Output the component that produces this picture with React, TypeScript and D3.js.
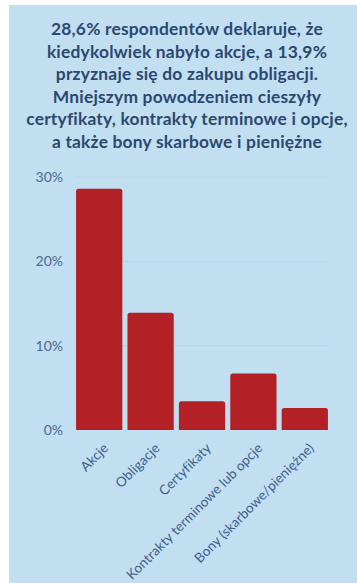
import React from "react";
import * as d3 from "d3";

const titleLines = [
  "28,6% respondentów deklaruje, że",
  "kiedykolwiek nabyło akcje, a 13,9%",
  "przyznaje się do zakupu obligacji.",
  "Mniejszym powodzeniem cieszyły",
  "certyfikaty, kontrakty terminowe i opcje,",
  "a także bony skarbowe i pieniężne",
];
const categories = [
  "Akcje",
  "Obligacje",
  "Certyfikaty",
  "Kontrakty terminowe lub opcje",
  "Bony (skarbowe/pieniężne)",
];
const values = [28.6, 13.9, 3.4, 6.7, 2.6];
const yTicks = [0, 10, 20, 30];

const W = 357;
const H = 583;

export default function App() {
  const x = d3
    .scaleBand<string>()
    .domain(categories)
    .range([73.5, 330.5])
    .paddingInner(0.1)
    .paddingOuter(0.05);
  const y = d3.scaleLinear().domain([0, 30]).range([430, 177]);
  const r = 2.5;
  const barPath = (x0: number, w: number, y0: number, y1: number) => {
    const p = d3.path();
    p.moveTo(x0, y1);
    p.lineTo(x0, y0 + r);
    p.quadraticCurveTo(x0, y0, x0 + r, y0);
    p.lineTo(x0 + w - r, y0);
    p.quadraticCurveTo(x0 + w, y0, x0 + w, y0 + r);
    p.lineTo(x0 + w, y1);
    p.closePath();
    return p.toString();
  };
  return (
    <svg
      width={W}
      height={H}
      style={{ position: "absolute", left: 0, top: 0 }}
    >
      <rect x={0} y={0} width={W} height={H} fill="#ffffff" />
      <rect x={9} y={5} width={W - 9} height={H - 5} fill="#c1dff0" />
      {titleLines.map((t, i) => (
        <text
          key={i}
          x={187}
          y={35 + i * 22.6}
          textAnchor="middle"
          fontFamily="Lato"
          fontWeight={700}
          fontSize={17.4}
          letterSpacing={0.2}
          fill="#2c4870"
        >
          {t}
        </text>
      ))}
      {yTicks.map((t) => (
        <g key={t}>
          {t > 0 && (
            <line
              x1={76}
              x2={328}
              y1={y(t)}
              y2={y(t)}
              stroke="#b3d3e6"
              strokeWidth={1}
            />
          )}
          <text
            x={63}
            y={y(t)}
            dy="0.35em"
            textAnchor="end"
            fontFamily="Lato"
            fontSize={14}
            fill="#4c6994"
          >
            {t}%
          </text>
        </g>
      ))}
      {categories.map((c, i) => (
        <path
          key={c}
          d={barPath(x(c)!, x.bandwidth(), y(values[i]), y(0))}
          fill="#b32025"
        />
      ))}
      {categories.map((c) => {
        const cx = x(c)! + x.bandwidth() / 2;
        return (
          <text
            key={c}
            transform={`translate(${cx + 10},${449}) rotate(-45)`}
            textAnchor="end"
            fontFamily="Lato"
            fontSize={13.5}
            letterSpacing={0.1}
            fill="#3f5c8c"
          >
            {c}
          </text>
        );
      })}
    </svg>
  );
}
